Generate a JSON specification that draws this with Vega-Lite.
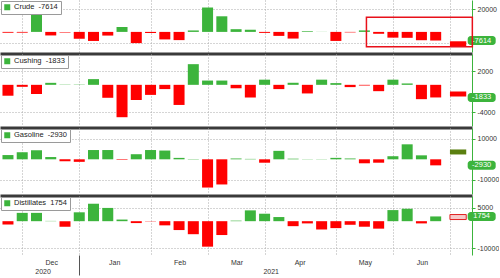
{
  "$schema": "https://vega.github.io/schema/vega-lite/v6.json",
  "padding": 0,
  "background": "white",
  "spacing": 0,
  "resolve": {"scale": {"fill": "independent"}, "legend": {"fill": "independent"}},
  "config": {
    "view": {"stroke": null},
    "font": "Liberation Sans",
    "axis": {"labelFont": "Liberation Sans", "labelFontSize": 7, "labelColor": "#333333"},
    "legend": {"labelFont": "Liberation Sans"}
  },
  "datasets": {
    "weekly": [
      {"date": "2020-11-25", "crude": -754, "cushing": -1580, "gasoline": 2060, "distillates": -1230},
      {"date": "2020-12-02", "crude": -679, "cushing": -290, "gasoline": 3430, "distillates": 3070},
      {"date": "2020-12-09", "crude": 20000, "cushing": -1330, "gasoline": 4390, "distillates": 3070},
      {"date": "2020-12-16", "crude": -3135, "cushing": 290, "gasoline": 1100, "distillates": 100},
      {"date": "2020-12-23", "crude": -562, "cushing": 60, "gasoline": -960, "distillates": -2050},
      {"date": "2020-12-30", "crude": -6065, "cushing": 40, "gasoline": -1230, "distillates": 3280},
      {"date": "2021-01-06", "crude": -8010, "cushing": 830, "gasoline": 4500, "distillates": 6450},
      {"date": "2021-01-13", "crude": -3248, "cushing": -1880, "gasoline": 4500, "distillates": 4900},
      {"date": "2021-01-20", "crude": 4351, "cushing": -4700, "gasoline": -260, "distillates": 600},
      {"date": "2021-01-27", "crude": -9910, "cushing": -2200, "gasoline": 2470, "distillates": -700},
      {"date": "2021-02-03", "crude": -994, "cushing": -1460, "gasoline": 4500, "distillates": -100},
      {"date": "2021-02-10", "crude": -6644, "cushing": -620, "gasoline": 4250, "distillates": -1540},
      {"date": "2021-02-17", "crude": -7258, "cushing": -2920, "gasoline": 690, "distillates": -3280},
      {"date": "2021-02-24", "crude": 1285, "cushing": 3000, "gasoline": 150, "distillates": -4810},
      {"date": "2021-03-03", "crude": 21563, "cushing": 620, "gasoline": -13700, "distillates": -9420},
      {"date": "2021-03-10", "crude": 13798, "cushing": 620, "gasoline": -12200, "distillates": -5120},
      {"date": "2021-03-17", "crude": 2396, "cushing": -500, "gasoline": 400, "distillates": 200},
      {"date": "2021-03-24", "crude": 1912, "cushing": -1840, "gasoline": 200, "distillates": 4000},
      {"date": "2021-03-31", "crude": -876, "cushing": 750, "gasoline": -1650, "distillates": 2760},
      {"date": "2021-04-07", "crude": -3522, "cushing": -620, "gasoline": 4100, "distillates": 1530},
      {"date": "2021-04-14", "crude": -5889, "cushing": 300, "gasoline": 300, "distillates": -1840},
      {"date": "2021-04-21", "crude": 594, "cushing": -1250, "gasoline": 100, "distillates": -820},
      {"date": "2021-04-28", "crude": 90, "cushing": 750, "gasoline": 100, "distillates": -3070},
      {"date": "2021-05-05", "crude": -7990, "cushing": 250, "gasoline": 700, "distillates": -2560},
      {"date": "2021-05-12", "crude": -427, "cushing": -330, "gasoline": 400, "distillates": -1330},
      {"date": "2021-05-19", "crude": 1321, "cushing": -100, "gasoline": -1930, "distillates": -2050},
      {"date": "2021-05-26", "crude": -1662, "cushing": -920, "gasoline": -1650, "distillates": -2760},
      {"date": "2021-06-02", "crude": -5079, "cushing": 750, "gasoline": 1500, "distillates": 4100},
      {"date": "2021-06-09", "crude": -5241, "cushing": 200, "gasoline": 7270, "distillates": 4600},
      {"date": "2021-06-16", "crude": -7355, "cushing": -2080, "gasoline": 1930, "distillates": -820},
      {"date": "2021-06-23", "crude": -7614, "cushing": -1833, "gasoline": -2930, "distillates": 1754}
    ],
    "next": [
      {"start": "2021-06-30", "end": "2021-07-08", "crude": -10500, "cushing": -1330, "gasoline": 3560, "distillates": 1530}
    ],
    "box": [
      {"start": "2021-05-20", "end": "2021-07-11", "top": 13000, "bottom": -13100}
    ]
  },
  "vconcat": [
    {
      "width": 472,
      "height": 52,
      "layer": [
        {
          "data": {"name": "weekly"},
          "mark": {"type": "bar", "size": 11},
          "encoding": {
            "x": {"field": "date", "type": "temporal",
              "scale": {"type": "utc", "domain": [{"year": 2020, "month": 11, "date": 23, "hours": 13, "utc": true}, {"year": 2021, "month": 7, "date": 8, "hours": 9, "utc": true}]},
              "axis": {"title": null, "orient": "bottom", "labels": false, "ticks": false, "grid": true, "gridDash": [1, 2], "gridColor": "#aaaaaa", "domain": true, "domainColor": "#3a3a3a", "domainWidth": 3, "offset": 1.5,
                "values": [{"year": 2020, "month": 12, "date": 2, "utc": true}, {"year": 2020, "month": 12, "date": 30, "utc": true}, {"year": 2021, "month": 2, "date": 3, "utc": true}, {"year": 2021, "month": 3, "date": 3, "utc": true}, {"year": 2021, "month": 3, "date": 31, "utc": true}, {"year": 2021, "month": 5, "date": 5, "utc": true}, {"year": 2021, "month": 6, "date": 2, "utc": true}, {"year": 2021, "month": 6, "date": 30, "utc": true}]}},
            "y": {"field": "crude", "type": "quantitative",
              "scale": {"domain": [-13350, 23780], "nice": false, "zero": false},
              "axis": {"title": null, "orient": "right", "values": [-10000, 0, 10000, 20000], "labelExpr": "datum.value == -10000 ? '' : '' + datum.value", "grid": true, "gridDash": [1, 2], "gridColor": "#aaaaaa", "gridOpacity": {"condition": {"test": "datum.value == 0", "value": 0}, "value": 1}, "domainColor": "#3cb43c", "tickColor": "#3cb43c", "tickSize": 3, "labelPadding": 2}},
            "fill": {"condition": {"test": "datum.crude < 0", "value": "#ff0000"}, "datum": "Crude\u00a0 -7614", "type": "nominal", "scale": {"range": ["#3cb43c"]},
              "legend": {"title": null, "orient": "top-left", "offset": 1, "padding": 2.5, "fillColor": "white", "strokeColor": "#9a9a9a", "symbolType": "square", "symbolSize": 36, "symbolStrokeWidth": 0, "labelFontSize": 7.5, "labelColor": "#222222", "labelOffset": 3}}
          }
        },
        {
          "data": {"name": "next"},
          "mark": {"type": "bar", "color": "#ff0000"},
          "encoding": {"x": {"field": "start", "type": "temporal"}, "x2": {"field": "end"}, "y": {"field": "crude", "type": "quantitative"}}
        },
        {
          "data": {"name": "weekly"},
          "transform": [{"filter": "utcyear(datum.date) == 2021 && utcmonth(datum.date) == 5 && utcdate(datum.date) == 23"}],
          "mark": {"type": "rect", "color": "#3cb43c", "xOffset": 32, "x2Offset": 60, "yOffset": -4.5, "y2Offset": 4.5, "cornerRadius": 3, "clip": false},
          "encoding": {"x": {"field": "date", "type": "temporal"}, "x2": {"field": "date"}, "y": {"field": "crude", "type": "quantitative"}, "y2": {"field": "crude"}}
        },
        {
          "data": {"name": "weekly"},
          "transform": [{"filter": "utcyear(datum.date) == 2021 && utcmonth(datum.date) == 5 && utcdate(datum.date) == 23"}],
          "mark": {"type": "text", "dx": 46, "align": "center", "baseline": "middle", "fill": "white", "fontSize": 7.5, "clip": false},
          "encoding": {"x": {"field": "date", "type": "temporal"}, "y": {"field": "crude", "type": "quantitative"}, "text": {"field": "crude", "type": "nominal"}}
        },
        {
          "data": {"name": "box"},
          "mark": {"type": "rect", "fillOpacity": 0, "stroke": "#e8101a", "strokeWidth": 1.5, "clip": false},
          "encoding": {"x": {"field": "start", "type": "temporal"}, "x2": {"field": "end"}, "y": {"field": "top", "type": "quantitative"}, "y2": {"field": "bottom"}}
        },
        {
          "mark": {"type": "rule", "color": "#3a3a3a", "strokeWidth": 3, "x2Offset": 28, "yOffset": 1.5, "clip": false},
          "encoding": {
            "x": {"datum": {"year": 2020, "month": 11, "date": 23, "hours": 13, "utc": true}, "type": "temporal"},
            "x2": {"datum": {"year": 2021, "month": 7, "date": 8, "hours": 9, "utc": true}},
            "y": {"datum": -13350, "type": "quantitative"}
          }
        }
      ]
    },
    {
      "width": 472,
      "height": 72,
      "layer": [
        {
          "data": {"name": "weekly"},
          "mark": {"type": "bar", "size": 11},
          "encoding": {
            "x": {"field": "date", "type": "temporal",
              "scale": {"type": "utc", "domain": [{"year": 2020, "month": 11, "date": 23, "hours": 13, "utc": true}, {"year": 2021, "month": 7, "date": 8, "hours": 9, "utc": true}]},
              "axis": {"title": null, "orient": "bottom", "labels": false, "ticks": false, "grid": true, "gridDash": [1, 2], "gridColor": "#aaaaaa", "domain": true, "domainColor": "#3a3a3a", "domainWidth": 3, "offset": 1.5,
                "values": [{"year": 2020, "month": 12, "date": 2, "utc": true}, {"year": 2020, "month": 12, "date": 30, "utc": true}, {"year": 2021, "month": 2, "date": 3, "utc": true}, {"year": 2021, "month": 3, "date": 3, "utc": true}, {"year": 2021, "month": 3, "date": 31, "utc": true}, {"year": 2021, "month": 5, "date": 5, "utc": true}, {"year": 2021, "month": 6, "date": 2, "utc": true}, {"year": 2021, "month": 6, "date": 30, "utc": true}]}},
            "y": {"field": "cushing", "type": "quantitative",
              "scale": {"domain": [-5250, 3750], "nice": false, "zero": false},
              "axis": {"title": null, "orient": "right", "values": [-4000, -2000, 0, 2000], "labelExpr": "datum.value == -2000 ? '' : '' + datum.value", "grid": true, "gridDash": [1, 2], "gridColor": "#aaaaaa", "gridOpacity": {"condition": {"test": "datum.value == 0", "value": 0}, "value": 1}, "domainColor": "#3cb43c", "tickColor": "#3cb43c", "tickSize": 3, "labelPadding": 2}},
            "fill": {"condition": {"test": "datum.cushing < 0", "value": "#ff0000"}, "datum": "Cushing\u00a0 -1833", "type": "nominal", "scale": {"range": ["#3cb43c"]},
              "legend": {"title": null, "orient": "top-left", "offset": 1, "padding": 2.5, "fillColor": "white", "strokeColor": "#9a9a9a", "symbolType": "square", "symbolSize": 36, "symbolStrokeWidth": 0, "labelFontSize": 7.5, "labelColor": "#222222", "labelOffset": 3}}
          }
        },
        {
          "data": {"name": "next"},
          "mark": {"type": "bar", "color": "#ff0000"},
          "encoding": {"x": {"field": "start", "type": "temporal"}, "x2": {"field": "end"}, "y": {"field": "cushing", "type": "quantitative"}}
        },
        {
          "data": {"name": "weekly"},
          "transform": [{"filter": "utcyear(datum.date) == 2021 && utcmonth(datum.date) == 5 && utcdate(datum.date) == 23"}],
          "mark": {"type": "rect", "color": "#3cb43c", "xOffset": 32, "x2Offset": 60, "yOffset": -4.5, "y2Offset": 4.5, "cornerRadius": 3, "clip": false},
          "encoding": {"x": {"field": "date", "type": "temporal"}, "x2": {"field": "date"}, "y": {"field": "cushing", "type": "quantitative"}, "y2": {"field": "cushing"}}
        },
        {
          "data": {"name": "weekly"},
          "transform": [{"filter": "utcyear(datum.date) == 2021 && utcmonth(datum.date) == 5 && utcdate(datum.date) == 23"}],
          "mark": {"type": "text", "dx": 46, "align": "center", "baseline": "middle", "fill": "white", "fontSize": 7.5, "clip": false},
          "encoding": {"x": {"field": "date", "type": "temporal"}, "y": {"field": "cushing", "type": "quantitative"}, "text": {"field": "cushing", "type": "nominal"}}
        },
        {
          "mark": {"type": "rule", "color": "#3a3a3a", "strokeWidth": 3, "x2Offset": 28, "yOffset": 1.5, "clip": false},
          "encoding": {
            "x": {"datum": {"year": 2020, "month": 11, "date": 23, "hours": 13, "utc": true}, "type": "temporal"},
            "x2": {"datum": {"year": 2021, "month": 7, "date": 8, "hours": 9, "utc": true}},
            "y": {"datum": -5250, "type": "quantitative"}
          }
        }
      ]
    },
    {
      "width": 472,
      "height": 66,
      "layer": [
        {
          "data": {"name": "weekly"},
          "mark": {"type": "bar", "size": 11},
          "encoding": {
            "x": {"field": "date", "type": "temporal",
              "scale": {"type": "utc", "domain": [{"year": 2020, "month": 11, "date": 23, "hours": 13, "utc": true}, {"year": 2021, "month": 7, "date": 8, "hours": 9, "utc": true}]},
              "axis": {"title": null, "orient": "bottom", "labels": false, "ticks": false, "grid": true, "gridDash": [1, 2], "gridColor": "#aaaaaa", "domain": true, "domainColor": "#3a3a3a", "domainWidth": 3, "offset": 1.5,
                "values": [{"year": 2020, "month": 12, "date": 2, "utc": true}, {"year": 2020, "month": 12, "date": 30, "utc": true}, {"year": 2021, "month": 2, "date": 3, "utc": true}, {"year": 2021, "month": 3, "date": 3, "utc": true}, {"year": 2021, "month": 3, "date": 31, "utc": true}, {"year": 2021, "month": 5, "date": 5, "utc": true}, {"year": 2021, "month": 6, "date": 2, "utc": true}, {"year": 2021, "month": 6, "date": 30, "utc": true}]}},
            "y": {"field": "gasoline", "type": "quantitative",
              "scale": {"domain": [-14400, 12760], "nice": false, "zero": false},
              "axis": {"title": null, "orient": "right", "values": [-10000, 0, 10000], "labelExpr": "'' + datum.value", "grid": true, "gridDash": [1, 2], "gridColor": "#aaaaaa", "gridOpacity": {"condition": {"test": "datum.value == 0", "value": 0}, "value": 1}, "domainColor": "#3cb43c", "tickColor": "#3cb43c", "tickSize": 3, "labelPadding": 2}},
            "fill": {"condition": {"test": "datum.gasoline < 0", "value": "#ff0000"}, "datum": "Gasoline\u00a0 -2930", "type": "nominal", "scale": {"range": ["#3cb43c"]},
              "legend": {"title": null, "orient": "top-left", "offset": 1, "padding": 2.5, "fillColor": "white", "strokeColor": "#9a9a9a", "symbolType": "square", "symbolSize": 36, "symbolStrokeWidth": 0, "labelFontSize": 7.5, "labelColor": "#222222", "labelOffset": 3}}
          }
        },
        {
          "data": {"name": "next"},
          "mark": {"type": "bar", "color": "#5a7f10"},
          "encoding": {"x": {"field": "start", "type": "temporal"}, "x2": {"field": "end"}, "y": {"field": "gasoline", "type": "quantitative"}}
        },
        {
          "data": {"name": "weekly"},
          "transform": [{"filter": "utcyear(datum.date) == 2021 && utcmonth(datum.date) == 5 && utcdate(datum.date) == 23"}],
          "mark": {"type": "rect", "color": "#3cb43c", "xOffset": 32, "x2Offset": 60, "yOffset": -4.5, "y2Offset": 4.5, "cornerRadius": 3, "clip": false},
          "encoding": {"x": {"field": "date", "type": "temporal"}, "x2": {"field": "date"}, "y": {"field": "gasoline", "type": "quantitative"}, "y2": {"field": "gasoline"}}
        },
        {
          "data": {"name": "weekly"},
          "transform": [{"filter": "utcyear(datum.date) == 2021 && utcmonth(datum.date) == 5 && utcdate(datum.date) == 23"}],
          "mark": {"type": "text", "dx": 46, "align": "center", "baseline": "middle", "fill": "white", "fontSize": 7.5, "clip": false},
          "encoding": {"x": {"field": "date", "type": "temporal"}, "y": {"field": "gasoline", "type": "quantitative"}, "text": {"field": "gasoline", "type": "nominal"}}
        },
        {
          "mark": {"type": "rule", "color": "#3a3a3a", "strokeWidth": 3, "x2Offset": 28, "yOffset": 1.5, "clip": false},
          "encoding": {
            "x": {"datum": {"year": 2020, "month": 11, "date": 23, "hours": 13, "utc": true}, "type": "temporal"},
            "x2": {"datum": {"year": 2021, "month": 7, "date": 8, "hours": 9, "utc": true}},
            "y": {"datum": -14400, "type": "quantitative"}
          }
        }
      ]
    },
    {
      "width": 472,
      "height": 59,
      "resolve": {"axis": {"x": "independent"}},
      "layer": [
        {
          "data": {"name": "weekly"},
          "mark": {"type": "bar", "size": 11},
          "encoding": {
            "x": {"field": "date", "type": "temporal",
              "scale": {"type": "utc", "domain": [{"year": 2020, "month": 11, "date": 23, "hours": 13, "utc": true}, {"year": 2021, "month": 7, "date": 8, "hours": 9, "utc": true}]},
              "axis": {"title": null, "orient": "bottom", "ticks": false, "grid": true, "gridDash": [1, 2], "gridColor": "#aaaaaa", "domain": false,
                "values": [{"year": 2020, "month": 12, "date": 2, "utc": true}, {"year": 2020, "month": 12, "date": 30, "utc": true}, {"year": 2021, "month": 2, "date": 3, "utc": true}, {"year": 2021, "month": 3, "date": 3, "utc": true}, {"year": 2021, "month": 3, "date": 31, "utc": true}, {"year": 2021, "month": 5, "date": 5, "utc": true}, {"year": 2021, "month": 6, "date": 2, "utc": true}, {"year": 2021, "month": 6, "date": 30, "utc": true}],
                "labelExpr": "datum.value > 1624000000000 ? '' : utcFormat(datum.value + 604800000, '%b')",
                "labelOffset": {"condition": {"test": "utcmonth(datum.value + 604800000) == 0 || utcmonth(datum.value + 604800000) == 3", "value": 35}, "value": 29},
                "labelPadding": 3, "labelFlush": false, "labelOverlap": false, "labelAlign": "center", "labelBaseline": "top"}},
            "y": {"field": "distillates", "type": "quantitative",
              "scale": {"domain": [-10650, 7460], "nice": false, "zero": false},
              "axis": {"title": null, "orient": "right", "values": [-10000, -5000, 0, 5000], "labelExpr": "'' + datum.value", "grid": true, "gridDash": [1, 2], "gridColor": "#aaaaaa", "gridOpacity": {"condition": {"test": "datum.value == 0", "value": 0}, "value": 1}, "domainColor": "#3cb43c", "tickColor": "#3cb43c", "tickSize": 3, "labelPadding": 2}},
            "fill": {"condition": {"test": "datum.distillates < 0", "value": "#ff0000"}, "datum": "Distillates\u00a0 1754", "type": "nominal", "scale": {"range": ["#3cb43c"]},
              "legend": {"title": null, "orient": "top-left", "offset": 1, "padding": 2.5, "fillColor": "white", "strokeColor": "#9a9a9a", "symbolType": "square", "symbolSize": 36, "symbolStrokeWidth": 0, "labelFontSize": 7.5, "labelColor": "#222222", "labelOffset": 3}}
          }
        },
        {
          "data": {"name": "next"},
          "mark": {"type": "bar", "fill": "#f6c9c9", "stroke": "#e02020", "strokeWidth": 1},
          "encoding": {"x": {"field": "start", "type": "temporal", "axis": null}, "x2": {"field": "end"}, "y": {"field": "distillates", "type": "quantitative"}}
        },
        {
          "data": {"name": "weekly"},
          "transform": [{"filter": "utcyear(datum.date) == 2021 && utcmonth(datum.date) == 5 && utcdate(datum.date) == 23"}],
          "mark": {"type": "rect", "color": "#3cb43c", "xOffset": 32, "x2Offset": 60, "yOffset": -4.5, "y2Offset": 4.5, "cornerRadius": 3, "clip": false},
          "encoding": {"x": {"field": "date", "type": "temporal", "axis": null}, "x2": {"field": "date"}, "y": {"field": "distillates", "type": "quantitative"}, "y2": {"field": "distillates"}}
        },
        {
          "data": {"name": "weekly"},
          "transform": [{"filter": "utcyear(datum.date) == 2021 && utcmonth(datum.date) == 5 && utcdate(datum.date) == 23"}],
          "mark": {"type": "text", "dx": 46, "align": "center", "baseline": "middle", "fill": "white", "fontSize": 7.5, "clip": false},
          "encoding": {
            "x": {"field": "date", "type": "temporal",
              "axis": {"title": null, "orient": "bottom", "domain": false, "grid": false, "ticks": true, "tickSize": 20, "tickColor": "#555555",
                "tickOpacity": {"condition": {"test": "utcdate(datum.value) == 30", "value": 1}, "value": 0},
                "values": [{"year": 2020, "month": 12, "date": 12, "utc": true}, {"year": 2020, "month": 12, "date": 30, "utc": true}, {"year": 2021, "month": 4, "date": 3, "utc": true}],
                "labelExpr": "utcdate(datum.value) == 30 ? '' : utcFormat(datum.value, '%Y')",
                "labelPadding": -8, "labelFlush": false, "labelOverlap": false, "labelAlign": "center", "labelBaseline": "top"}},
            "y": {"field": "distillates", "type": "quantitative"},
            "text": {"field": "distillates", "type": "nominal"}
          }
        }
      ]
    }
  ]
}
